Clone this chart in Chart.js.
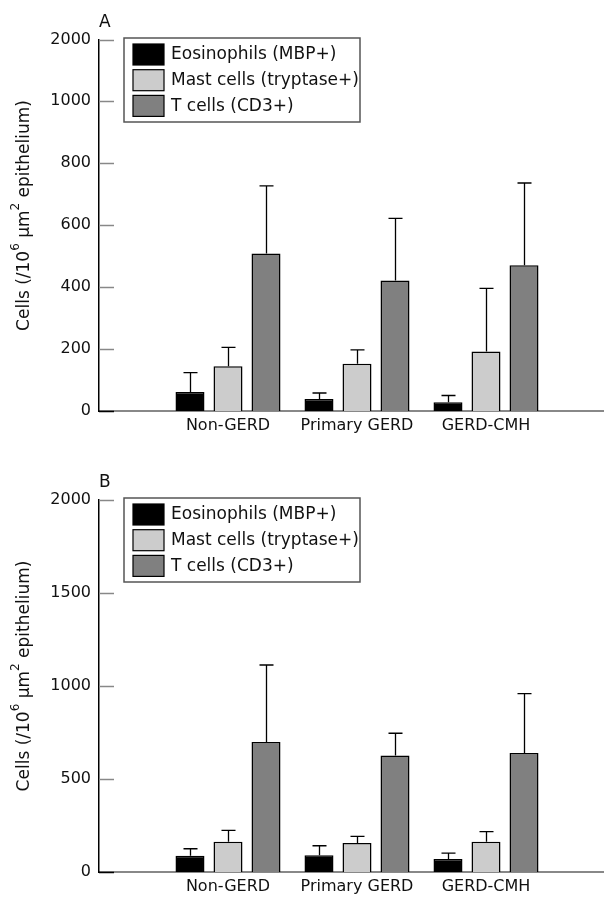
<!DOCTYPE html>
<html>
<head>
<meta charset="utf-8">
<script src="https://cdn.jsdelivr.net/npm/chart.js@4.4.1/dist/chart.umd.min.js"></script>
<style>
  body { margin: 0; background: #fff; }
  .panel { position: absolute; left: 0; width: 604px; overflow: hidden; }
  #wrapA { top: 0; height: 436px; }
  #wrapB { top: 450px; height: 447px; }
</style>
</head>
<body>
<div class="panel" id="wrapA"><canvas id="chartA" width="620" height="436"></canvas></div>
<div class="panel" id="wrapB"><canvas id="chartB" width="620" height="447"></canvas></div>
<script>
const categories = ["Non-GERD", "Primary GERD", "GERD-CMH"];
const seriesNames = ["Eosinophils (MBP+)", "Mast cells (tryptase+)", "T cells (CD3+)"];
const seriesColors = ["#000000", "#cccccc", "#808080"];

// panel A: mean and SD
const eosA = [61, 39, 28];
const eosSdA = [63, 19, 22];
const mastA = [144, 152, 192];
const mastSdA = [61, 45, 203];
const tcellA = [508, 421, 470];
const tcellSdA = [218, 200, 265];
const ticksA = [0, 200, 400, 600, 800, 1000, 2000];

// panel B: mean and SD
const eosB = [88, 90, 70];
const eosSdB = [37, 51, 32];
const mastB = [163, 156, 163];
const mastSdB = [61, 36, 54];
const tcellB = [699, 627, 640];
const tcellSdB = [414, 119, 319];
const ticksB = [0, 500, 1000, 1500, 2000];

const FONT = "'DejaVu Sans'";
const AXIS_BREAK = 1000;
const SQUEEZE = 0.196; // 1000-2000 is squashed on panel A

// panel A has a compressed top segment above 1000
class BrokenLinearScale extends Chart.LinearScale {
  warp(v) {
    return v <= AXIS_BREAK ? v : AXIS_BREAK + (v - AXIS_BREAK) * SQUEEZE;
  }
  getPixelForValue(value) {
    const lo = this.warp(this.min), hi = this.warp(this.max);
    return this.bottom - ((this.warp(value) - lo) / (hi - lo)) * this.height;
  }
  getValueForPixel(pixel) {
    const lo = this.warp(this.min), hi = this.warp(this.max);
    const t = lo + ((this.bottom - pixel) / this.height) * (hi - lo);
    return t <= AXIS_BREAK ? t : AXIS_BREAK + (t - AXIS_BREAK) / SQUEEZE;
  }
}
BrokenLinearScale.id = "brokenLinear";
BrokenLinearScale.defaults = Chart.LinearScale.defaults;
Chart.register(BrokenLinearScale);

const pad = (arr) => [null, ...arr, null];

const figurePlugin = {
  id: "figure",
  afterDraw(chart, args, opts) {
    const ctx = chart.ctx;
    const area = chart.chartArea;
    const y = chart.scales.y;
    ctx.save();

    // inward tick marks
    ctx.lineWidth = 1.5;
    y.ticks.forEach((t) => {
      const py = Math.round(y.getPixelForValue(t.value)) + 0.5;
      ctx.strokeStyle = t.value === 0 ? "#000" : "#888";
      ctx.beginPath();
      ctx.moveTo(area.left, py);
      ctx.lineTo(area.left + 15, py);
      ctx.stroke();
    });

    // error bars
    ctx.strokeStyle = "#000";
    ctx.lineWidth = 1.3;
    chart.data.datasets.forEach((ds, i) => {
      const meta = chart.getDatasetMeta(i);
      meta.data.forEach((bar, j) => {
        const sd = ds.sd[j];
        if (sd == null) return;
        const top = y.getPixelForValue(ds.data[j] + sd);
        const x = Math.round(bar.x) + 0.5;
        ctx.beginPath();
        ctx.moveTo(x, bar.y);
        ctx.lineTo(x, top);
        ctx.moveTo(x - 7, top);
        ctx.lineTo(x + 7, top);
        ctx.stroke();
      });
    });

    // legend box
    const bx = area.left + 25, by = area.top - 2;
    ctx.strokeStyle = "#555";
    ctx.lineWidth = 1.5;
    ctx.strokeRect(bx, by, 236, 84);
    ctx.font = "17px " + FONT;
    ctx.textBaseline = "middle";
    ctx.textAlign = "left";
    seriesNames.forEach((name, i) => {
      const ry = by + 6 + i * 25.7;
      ctx.fillStyle = seriesColors[i];
      ctx.fillRect(bx + 9, ry, 31, 21);
      ctx.strokeStyle = "#000";
      ctx.lineWidth = 1.2;
      ctx.strokeRect(bx + 9, ry, 31, 21);
      ctx.fillStyle = "#111";
      ctx.fillText(name, bx + 47, ry + 11);
    });

    // panel letter
    ctx.font = "17px " + FONT;
    ctx.textBaseline = "alphabetic";
    ctx.fillText(opts.letter, area.left, area.top - 13);

    // y title with superscripts
    const parts = [
      ["Cells (/10", false], ["6", true], [" \u00b5m", false], ["2", true], [" epithelium)", false]
    ];
    const big = "17px " + FONT, small = "12px " + FONT;
    let total = 0;
    parts.forEach(([s, sup]) => { ctx.font = sup ? small : big; total += ctx.measureText(s).width; });
    ctx.translate(25, (area.top + area.bottom) / 2 - 10);
    ctx.rotate(-Math.PI / 2);
    let x = -total / 2;
    ctx.textBaseline = "middle";
    parts.forEach(([s, sup]) => {
      ctx.font = sup ? small : big;
      ctx.fillText(s, x, sup ? -9 : 0);
      x += ctx.measureText(s).width;
    });
    ctx.restore();
  },
};

function makePanel(canvasId, letter, means, sds, tickValues, yType, topPad) {
  const datasets = means.map((m, i) => ({
    label: seriesNames[i],
    data: pad(m),
    sd: pad(sds[i]),
    backgroundColor: seriesColors[i],
    borderColor: "#000",
    borderWidth: 1.5,
    categoryPercentage: 0.884,
    barPercentage: 0.763,
  }));
  return new Chart(document.getElementById(canvasId), {
    type: "bar",
    data: { labels: ["", ...categories, ""], datasets },
    options: {
      responsive: false,
      devicePixelRatio: 1,
      animation: false,
      layout: { padding: { top: topPad, right: 5, left: 0, bottom: 0 } },
      plugins: {
        legend: { display: false },
        tooltip: { enabled: false },
        figure: { letter },
      },
      scales: {
        x: {
          offset: false,
          grid: { display: false, drawTicks: false },
          border: { color: "#888", width: 2 },
          ticks: { color: "#111", font: { family: FONT, size: 16 }, padding: 5, maxRotation: 0, autoSkip: false },
          afterFit: (s) => { s.height = 25; },
        },
        y: {
          type: yType,
          min: 0,
          max: 2000,
          grid: { display: false, drawTicks: false },
          border: { color: "#000", width: 1.5 },
          ticks: { color: "#111", font: { family: FONT, size: 16 }, padding: 8, callback: (v) => String(v) },
          afterBuildTicks: (s) => { s.ticks = tickValues.map((v) => ({ value: v })); },
          afterFit: (s) => { s.width = 99; },
        },
      },
    },
    plugins: [figurePlugin],
  });
}

makePanel("chartA", "A", [eosA, mastA, tcellA], [eosSdA, mastSdA, tcellSdA], ticksA, "brokenLinear", 40);
makePanel("chartB", "B", [eosB, mastB, tcellB], [eosSdB, mastSdB, tcellSdB], ticksB, "linear", 50);
</script>
</body>
</html>
